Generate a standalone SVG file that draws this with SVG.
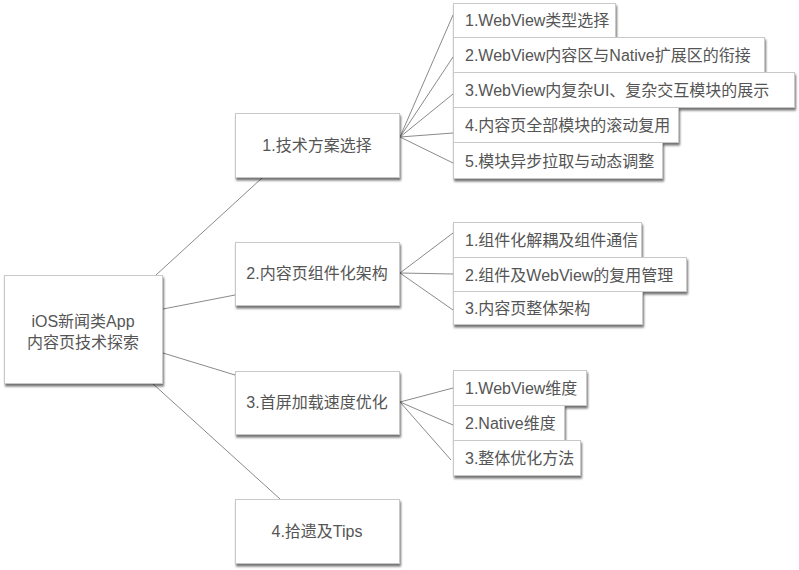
<svg xmlns="http://www.w3.org/2000/svg" width="799" height="570" viewBox="0 0 799 570">
<defs>
<filter id="sh" x="-10%" y="-10%" width="130%" height="140%">
<feDropShadow dx="1" dy="2.5" stdDeviation="1.3" flood-color="#000" flood-opacity="0.55"/>
</filter>
<style>
.box{fill:#fff;stroke:#c8c8c8;stroke-width:1;filter:url(#sh)}
.t{font-family:"Liberation Sans","Noto Sans CJK SC",sans-serif;font-size:16px;fill:#555}
.c{text-anchor:middle}
.ln{stroke:#8a8a8a;stroke-width:1;fill:none}
</style>
</defs>
<rect width="799" height="570" fill="#fff"/>
<g id="connectors">
<line class="ln" x1="156" y1="275" x2="262" y2="178"/>
<line class="ln" x1="163" y1="309" x2="235" y2="295"/>
<line class="ln" x1="163" y1="353" x2="235" y2="375"/>
<line class="ln" x1="152" y1="383" x2="280" y2="499"/>
<line class="ln" x1="400" y1="137" x2="453" y2="15"/>
<line class="ln" x1="400" y1="137" x2="453" y2="57"/>
<line class="ln" x1="400" y1="137" x2="453" y2="94"/>
<line class="ln" x1="400" y1="137" x2="453" y2="133"/>
<line class="ln" x1="400" y1="137" x2="453" y2="163"/>
<line class="ln" x1="400" y1="273" x2="453" y2="233"/>
<line class="ln" x1="400" y1="273" x2="453" y2="274"/>
<line class="ln" x1="400" y1="273" x2="453" y2="310"/>
<line class="ln" x1="400" y1="402" x2="453" y2="388"/>
<line class="ln" x1="400" y1="402" x2="453" y2="425"/>
<line class="ln" x1="400" y1="402" x2="451" y2="460"/>
</g>
<g id="root">
<rect class="box" x="4.5" y="275.5" width="158" height="108"/>
<text class="t c" x="83" y="327">iOS新闻类App</text>
<text class="t c" x="83" y="348">内容页技术探索</text>
</g>
<g id="n1">
<rect class="box" x="235.5" y="113.5" width="164" height="64"/>
<text class="t c" x="317" y="151">1.技术方案选择</text>
</g>
<g id="n2">
<rect class="box" x="235.5" y="242.5" width="164" height="63"/>
<text class="t c" x="317" y="279">2.内容页组件化架构</text>
</g>
<g id="n3">
<rect class="box" x="235.5" y="371.5" width="164" height="63"/>
<text class="t c" x="317" y="408">3.首屏加载速度优化</text>
</g>
<g id="n4">
<rect class="box" x="235.5" y="499.5" width="164" height="64"/>
<text class="t c" x="317" y="537">4.拾遗及Tips</text>
</g>
<g id="n1-1">
<rect class="box" x="453.5" y="3.5" width="162" height="34"/>
<text class="t" x="465" y="26">1.WebView类型选择</text>
</g>
<g id="n1-2">
<rect class="box" x="453.5" y="37.5" width="311" height="35"/>
<text class="t" x="465" y="61">2.WebView内容区与Native扩展区的衔接</text>
</g>
<g id="n1-3">
<rect class="box" x="453.5" y="72.5" width="341" height="35"/>
<text class="t" x="465" y="96">3.WebView内复杂UI、复杂交互模块的展示</text>
</g>
<g id="n1-4">
<rect class="box" x="453.5" y="107.5" width="225" height="35"/>
<text class="t" x="465" y="131">4.内容页全部模块的滚动复用</text>
</g>
<g id="n1-5">
<rect class="box" x="453.5" y="142.5" width="209" height="36"/>
<text class="t" x="465" y="167">5.模块异步拉取与动态调整</text>
</g>
<g id="n2-1">
<rect class="box" x="453.5" y="222.5" width="188" height="35"/>
<text class="t" x="465" y="246">1.组件化解耦及组件通信</text>
</g>
<g id="n2-2">
<rect class="box" x="453.5" y="257.5" width="233" height="34"/>
<text class="t" x="465" y="281">2.组件及WebView的复用管理</text>
</g>
<g id="n2-3">
<rect class="box" x="453.5" y="291.5" width="189" height="33"/>
<text class="t" x="465" y="314">3.内容页整体架构</text>
</g>
<g id="n3-1">
<rect class="box" x="453.5" y="370.5" width="133" height="35"/>
<text class="t" x="465" y="394">1.WebView维度</text>
</g>
<g id="n3-2">
<rect class="box" x="453.5" y="405.5" width="111" height="35"/>
<text class="t" x="465" y="429">2.Native维度</text>
</g>
<g id="n3-3">
<rect class="box" x="453.5" y="440.5" width="127" height="35"/>
<text class="t" x="465" y="464">3.整体优化方法</text>
</g>
</svg>
